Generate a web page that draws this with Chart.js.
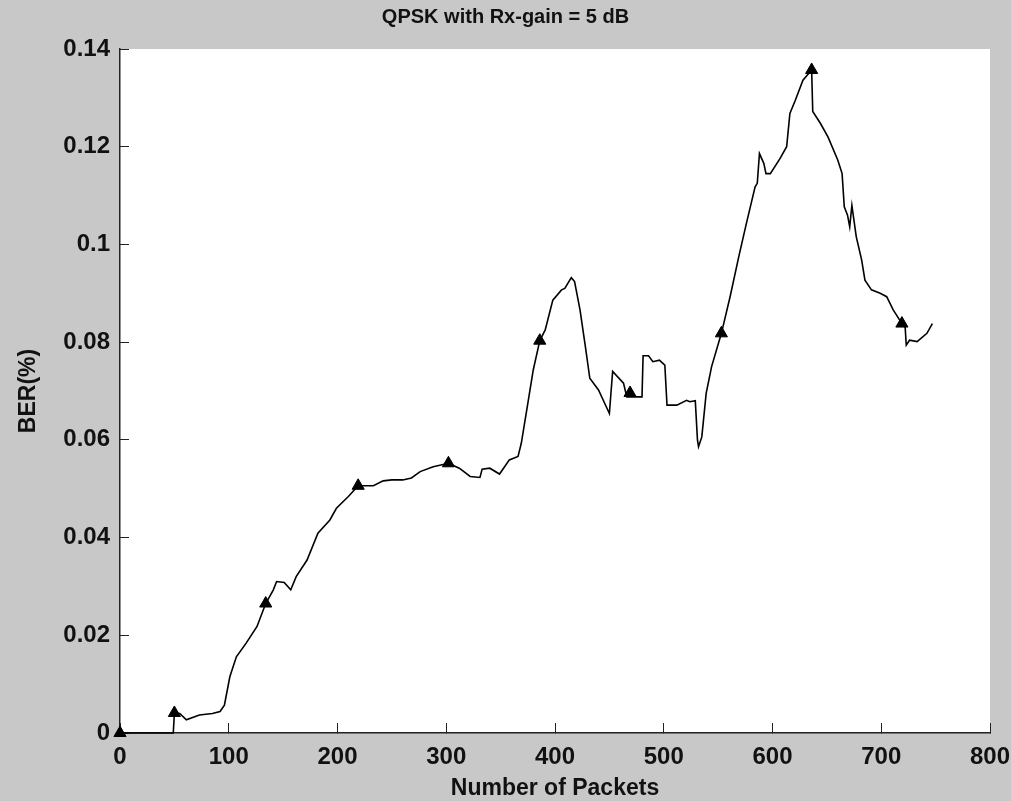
<!DOCTYPE html>
<html lang="en">
<head>
    <meta charset="UTF-8">
    <title>QPSK with Rx-gain = 5 dB</title>
    <style>
        body {
            margin: 0;
            padding: 0;
            background-color: #c8c8c8;
        }
        #chart-box {
            width: 1011px;
            height: 801px;
        }
    </style>
    <script src="https://cdn.jsdelivr.net/npm/chart.js"></script>
</head>
<body>
    <div id="chart-box">
        <canvas id="ber-chart" width="1011" height="801"></canvas>
    </div>
    <script>
        // BER trace (x = packet count, y = BER)
        const packets = [
            0, 49, 50, 55, 61, 73, 85, 92, 96, 101, 107, 116, 126, 134, 141, 144, 151, 157, 162, 172,
            182, 193, 199, 210, 219, 226, 233, 242, 250, 260, 268, 276, 288, 302, 312, 322, 331, 333, 340, 349,
            358, 366, 369, 374, 380, 386, 391, 398, 406, 409, 415, 418, 423, 428, 432, 440, 450, 453, 463, 466,
            469, 480, 481, 486, 490, 496, 501, 503, 512, 521, 524, 529, 531, 532, 535, 539, 544, 553, 561, 569,
            576, 584, 586, 588, 592, 594, 598, 607, 613, 616, 621, 628, 636, 637, 644, 651, 660, 664, 666, 669,
            671, 673, 677, 682, 685, 691, 699, 705, 711, 719, 722, 723, 726, 733, 742, 747
        ];
        const ber = [
            0, 0, 0.0041, 0.0040, 0.0027, 0.0037, 0.0040, 0.0044, 0.0057, 0.0115, 0.0156, 0.0184, 0.0218, 0.0265, 0.0293, 0.0310, 0.0308, 0.0293, 0.0320, 0.0354,
            0.0409, 0.0436, 0.0460, 0.0484, 0.0506, 0.0506, 0.0506, 0.0516, 0.0518, 0.0518, 0.0522, 0.0535, 0.0545, 0.0552, 0.0542, 0.0525, 0.0523, 0.0540, 0.0542, 0.0530,
            0.0559, 0.0566, 0.0593, 0.0661, 0.0743, 0.0803, 0.0825, 0.0886, 0.0907, 0.0910, 0.0932, 0.0924, 0.0866, 0.0790, 0.0726, 0.0702, 0.0654, 0.0740, 0.0716, 0.0688,
            0.0688, 0.0688, 0.0772, 0.0772, 0.0760, 0.0763, 0.0753, 0.0671, 0.0671, 0.0681, 0.0678, 0.0680, 0.0600, 0.0586, 0.0606, 0.0695, 0.0750, 0.0818, 0.0893, 0.0975,
            0.1043, 0.1118, 0.1125, 0.1186, 0.1166, 0.1145, 0.1145, 0.1176, 0.1200, 0.1268, 0.1295, 0.1336, 0.1357, 0.1272, 0.1248, 0.1220, 0.1173, 0.1145, 0.1077, 0.1060,
            0.1036, 0.1080, 0.1016, 0.0968, 0.0927, 0.0907, 0.0900, 0.0893, 0.0866, 0.0838, 0.0830, 0.0794, 0.0804, 0.0801, 0.0818, 0.0838
        ];

        // triangle markers every ~83 packets
        const markerPackets = [0, 50, 134, 219, 302, 386, 469, 553, 636, 719];
        const markerBer = [0, 0.0041, 0.0265, 0.0506, 0.0552, 0.0803, 0.0696, 0.0818, 0.1357, 0.0838];

        const xTicks = [0, 100, 200, 300, 400, 500, 600, 700, 800];
        const yTicks = [0, 0.02, 0.04, 0.06, 0.08, 0.1, 0.12, 0.14];

        const fontFamily = '"Liberation Sans", Arial, sans-serif';
        const tickFont = { family: fontFamily, size: 24, weight: 'bold' };
        const titleFont = { family: fontFamily, size: 20, weight: 'bold' };
        const axisTitleFont = { family: fontFamily, size: 23, weight: 'bold', lineHeight: 1 };
        const ink = '#111';

        // grey figure, white axes box
        const figureBackground = {
            id: 'figureBackground',
            beforeDraw(chart) {
                const { ctx, chartArea } = chart;
                ctx.save();
                ctx.fillStyle = '#c8c8c8';
                ctx.fillRect(0, 0, chart.width, chart.height);
                ctx.fillStyle = '#ffffff';
                ctx.fillRect(chartArea.left, chartArea.top, chartArea.right - chartArea.left, chartArea.bottom - chartArea.top);
                ctx.restore();
            }
        };

        const buildChart = () => {
            const ctx = document.getElementById('ber-chart').getContext('2d');
            new Chart(ctx, {
                type: 'line',
                data: {
                    datasets: [
                        {
                            label: 'BER',
                            data: packets.map((p, i) => ({ x: p, y: ber[i] })),
                            borderColor: '#000',
                            borderWidth: 1.6,
                            pointRadius: 0,
                            tension: 0,
                            clip: false,
                        },
                        {
                            type: 'scatter',
                            label: 'markers',
                            data: markerPackets.map((p, i) => ({ x: p, y: markerBer[i] })),
                            pointStyle: 'triangle',
                            pointRadius: 7,
                            backgroundColor: '#000',
                            borderColor: '#000',
                            borderWidth: 1,
                            clip: false,
                        }
                    ]
                },
                options: {
                    responsive: false,
                    animation: false,
                    layout: { padding: 0 },
                    plugins: {
                        legend: { display: false },
                        tooltip: { enabled: false },
                        title: {
                            display: true,
                            text: 'QPSK with Rx-gain = 5 dB',
                            color: ink,
                            font: titleFont,
                            padding: { top: 5, bottom: 20 },
                        },
                    },
                    scales: {
                        x: {
                            type: 'linear',
                            min: 0,
                            max: 800,
                            afterBuildTicks: scale => { scale.ticks = xTicks.map(v => ({ value: v })); },
                            afterFit: scale => {
                                scale.height = 68;
                                scale.paddingLeft = 0;
                                scale.paddingRight = 21; // grey margin right of the axes box
                            },
                            ticks: {
                                color: ink,
                                font: tickFont,
                                padding: 20,
                                maxRotation: 0,
                            },
                            grid: {
                                drawOnChartArea: false,
                                drawTicks: true,
                                tickLength: -10,
                                color: '#222',
                            },
                            border: { color: '#222', width: 1.5 },
                            title: {
                                display: true,
                                text: 'Number of Packets',
                                color: ink,
                                font: axisTitleFont,
                                padding: { top: 0, bottom: 0.5 },
                            },
                        },
                        y: {
                            type: 'linear',
                            min: 0,
                            max: 0.14,
                            afterBuildTicks: scale => { scale.ticks = yTicks.map(v => ({ value: v })); },
                            afterFit: scale => {
                                scale.width = 120;
                                scale.paddingTop = 0;
                                scale.paddingBottom = 0;
                            },
                            ticks: {
                                color: ink,
                                font: tickFont,
                                padding: 19,
                                callback: v => String(Number(v.toFixed(2))),
                            },
                            grid: {
                                drawOnChartArea: false,
                                drawTicks: true,
                                tickLength: -9,
                                color: '#222',
                            },
                            border: { color: '#222', width: 1.5 },
                            title: {
                                display: true,
                                text: 'BER(%)',
                                color: ink,
                                font: axisTitleFont,
                                padding: { top: 17.5, bottom: 0 },
                            },
                        },
                    },
                },
                plugins: [figureBackground],
            });
        };

        document.addEventListener('DOMContentLoaded', buildChart);
    </script>
</body>
</html>
